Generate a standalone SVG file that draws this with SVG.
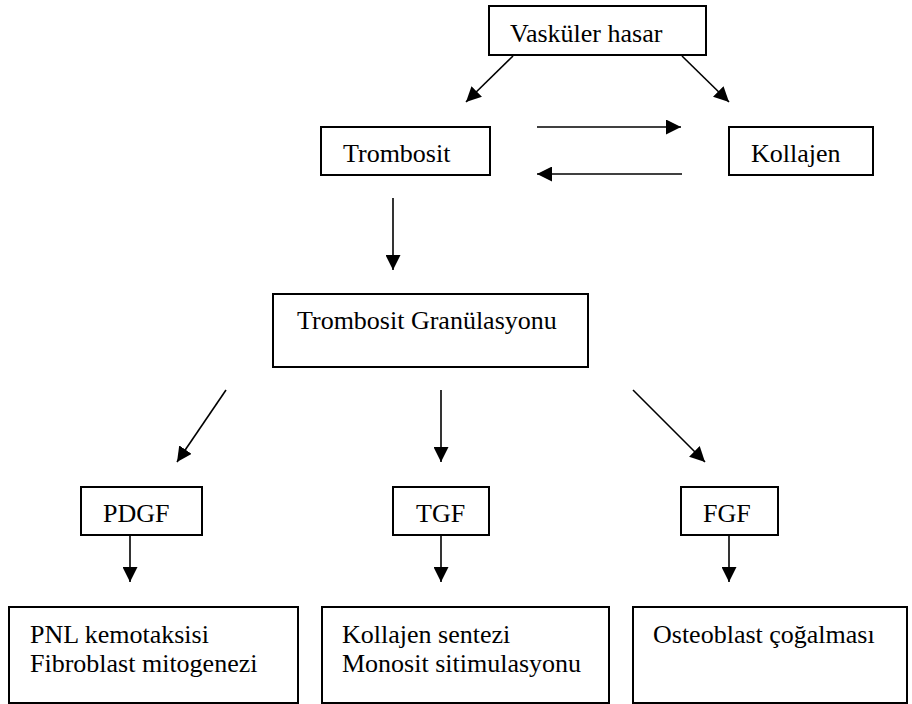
<svg xmlns="http://www.w3.org/2000/svg" width="912" height="704" viewBox="0 0 912 704">
<style>
.box{fill:#fff;stroke:#000;stroke-width:2}
.lbl{font-family:"Liberation Serif","Times New Roman","DejaVu Serif",serif;font-size:26px;fill:#000}
.con{stroke:#000;stroke-width:1.6;fill:none;marker-end:url(#ah)}
</style>
<defs>
<marker id="ah" viewBox="0 0 10 10" refX="10" refY="5" markerWidth="15" markerHeight="15" markerUnits="userSpaceOnUse" orient="auto">
<path d="M0,0 L10,5 L0,10 z" fill="#000"/>
</marker>
</defs>
<rect width="912" height="704" fill="#fff"/>
<g id="connectors">
<line class="con" x1="513" y1="56" x2="466" y2="102"/>
<line class="con" x1="682" y1="56" x2="729" y2="102"/>
<line class="con" x1="537" y1="127" x2="681" y2="127"/>
<line class="con" x1="682" y1="174" x2="537" y2="174"/>
<line class="con" x1="393" y1="198" x2="393" y2="270"/>
<line class="con" x1="226" y1="390" x2="177" y2="462"/>
<line class="con" x1="441" y1="390" x2="441" y2="462"/>
<line class="con" x1="633" y1="390" x2="705" y2="462"/>
<line class="con" x1="130" y1="535" x2="130" y2="582"/>
<line class="con" x1="441" y1="535" x2="441" y2="582"/>
<line class="con" x1="729" y1="535" x2="729" y2="582"/>
</g>
<g id="vaskuler">
<rect class="box" x="489" y="6" width="217" height="49"/>
<text class="lbl" font-family="Liberation Serif, serif" x="510" y="42">Vasküler hasar</text>
</g>
<g id="trombosit">
<rect class="box" x="321" y="127" width="169" height="48"/>
<text class="lbl" font-family="Liberation Serif, serif" x="343" y="162">Trombosit</text>
</g>
<g id="kollajen">
<rect class="box" x="729" y="127" width="144" height="48"/>
<text class="lbl" font-family="Liberation Serif, serif" x="751" y="162">Kollajen</text>
</g>
<g id="granulasyon">
<rect class="box" x="273" y="294" width="315" height="73"/>
<text class="lbl" font-family="Liberation Serif, serif" x="297" y="329">Trombosit Granülasyonu</text>
</g>
<g id="pdgf">
<rect class="box" x="81" y="487" width="121" height="48"/>
<text class="lbl" font-family="Liberation Serif, serif" x="103" y="522">PDGF</text>
</g>
<g id="tgf">
<rect class="box" x="393" y="487" width="96" height="48"/>
<text class="lbl" font-family="Liberation Serif, serif" x="416" y="522">TGF</text>
</g>
<g id="fgf">
<rect class="box" x="681" y="487" width="97" height="48"/>
<text class="lbl" font-family="Liberation Serif, serif" x="703" y="522">FGF</text>
</g>
<g id="pdgf-effects">
<rect class="box" x="9" y="607" width="289" height="96"/>
<text class="lbl" font-family="Liberation Serif, serif" x="30" y="643">PNL kemotaksisi</text>
<text class="lbl" font-family="Liberation Serif, serif" x="30" y="672">Fibroblast mitogenezi</text>
</g>
<g id="tgf-effects">
<rect class="box" x="322" y="607" width="287" height="96"/>
<text class="lbl" font-family="Liberation Serif, serif" x="342" y="643">Kollajen sentezi</text>
<text class="lbl" font-family="Liberation Serif, serif" x="342" y="672">Monosit sitimulasyonu</text>
</g>
<g id="fgf-effects">
<rect class="box" x="633" y="607" width="274" height="96"/>
<text class="lbl" font-family="Liberation Serif, serif" x="653" y="643">Osteoblast çoğalması</text>
</g>
</svg>
